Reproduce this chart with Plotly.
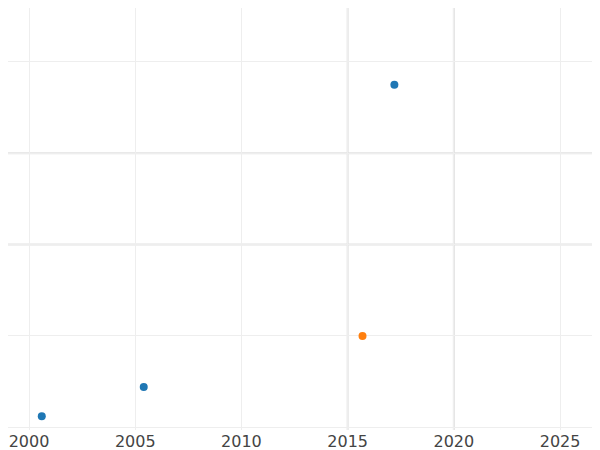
import plotly.graph_objects as go

blue_x = [2000.6, 2005.4, 2017.2]
blue_y = [0.12, 0.44, 3.75]
orange_x = [2015.7]
orange_y = [1.0]

fig = go.Figure()
fig.add_trace(go.Scatter(x=blue_x, y=blue_y, mode="markers",
                         marker=dict(color="#1f77b4", size=8), showlegend=False))
fig.add_trace(go.Scatter(x=orange_x, y=orange_y, mode="markers",
                         marker=dict(color="#ff7f0e", size=8), showlegend=False))
for yv in [2, 3]:
    fig.add_shape(type="line", xref="paper", x0=0, x1=1, yref="y", y0=yv, y1=yv,
                  line=dict(color="#e2e2e2", width=2), layer="below")
for xv in [2015, 2020]:
    fig.add_shape(type="line", yref="paper", y0=0, y1=1, xref="x", x0=xv, x1=xv,
                  line=dict(color="#e2e2e2", width=2), layer="below")
fig.update_layout(
    width=592, height=442, margin=dict(l=0, r=0, t=0, b=20),
    plot_bgcolor="white", paper_bgcolor="white",
    font=dict(family="DejaVu Sans", size=16, color="#444"),
    xaxis=dict(range=[1999.01, 2026.88], dtick=5, tick0=2000, showgrid=True,
               gridcolor="#eeeeee", zeroline=False, ticks=""),
    yaxis=dict(range=[-0.03, 4.59], dtick=1, showgrid=True, gridcolor="#eeeeee",
               zeroline=False, showticklabels=False),
)
fig.write_html("out.html")
